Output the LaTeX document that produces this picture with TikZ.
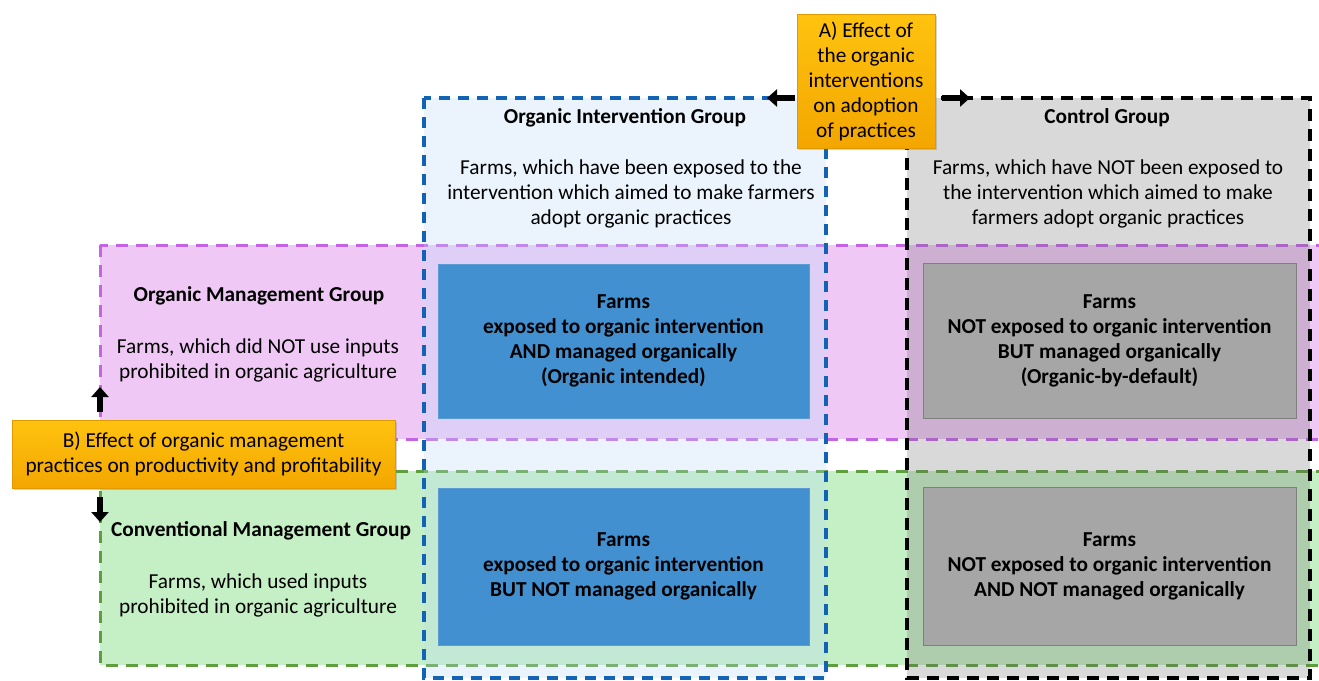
\documentclass[tikz,border=0pt]{standalone}
\usepackage{fontspec}
\setmainfont{Carlito}
\usetikzlibrary{arrows.meta,shadows}
\definecolor{c4290CF}{HTML}{4290CF}
\definecolor{c5B9BD5}{HTML}{5B9BD5}
\definecolor{cBDDCF8}{HTML}{BDDCF8}
\definecolor{c1262B6}{HTML}{1262B6}
\definecolor{c686868}{HTML}{686868}
\definecolor{cA6A6A6}{HTML}{A6A6A6}
\definecolor{c7F7F7F}{HTML}{7F7F7F}
\definecolor{cEFC8F5}{HTML}{EFC8F5}
\definecolor{cC264E4}{HTML}{C264E4}
\definecolor{cC5EFC5}{HTML}{C5EFC5}
\definecolor{c5E9E3C}{HTML}{5E9E3C}
\definecolor{cFFC30F}{HTML}{FFC30F}
\definecolor{cF3A600}{HTML}{F3A600}
\definecolor{cE09A00}{HTML}{E09A00}

\begin{document}
\begin{tikzpicture}[x=1pt,y=-1pt,
    every node/.style={font=\fontsize{21.3}{25}\selectfont,align=center,inner sep=0},
    hdr/.style={font=\fontsize{21.3}{25}\selectfont\bfseries},
    farmint/.style={fill=c4290CF,draw=c5B9BD5,line width=.8pt,minimum width=371,font=\fontsize{21.3}{25}\selectfont\bfseries},
    farmctl/.style={fill=cA6A6A6,draw=c7F7F7F,line width=.8pt,minimum width=373,font=\fontsize{21.3}{25}\selectfont\bfseries},
    effect/.style={top color=cFFC30F,bottom color=cF3A600,draw=cE09A00,line width=.5pt,
        drop shadow={shadow xshift=2pt,shadow yshift=-2pt,opacity=.35}},
    bigarrow/.style={line width=6pt,-{Triangle[width=17pt,length=10pt]}}]
    \useasboundingbox(0,0)rectangle(1319,680);
    % management bands
    \draw[fill=cEFC8F5,draw=cC264E4,dash pattern=on 12pt off 8pt,line width=3pt](100,245)rectangle(1330,439);
    \draw[fill=cC5EFC5,draw=c5E9E3C,dash pattern=on 12pt off 8pt,line width=3pt](100,471)rectangle(1330,665);
    % intervention columns
    \fill[cBDDCF8,fill opacity=.3](424,98)rectangle(826,678);
    \draw[c1262B6,dash pattern=on 11pt off 8pt,line width=3.5pt](424,98)rectangle(826,678);
    \fill[c686868,fill opacity=.25](907,98)rectangle(1310,678);
    \draw[black,dash pattern=on 12pt off 8pt,line width=3.5pt](907,98)rectangle(1310,678);
    % column and band texts
    \node[hdr](oigrp)at(625,118){Organic Intervention Group};
    \node(oidesc)at(631,194){Farms, which have been exposed to the\\intervention which aimed to make farmers\\adopt organic practices};
    \node[hdr](ctlgrp)at(1107,118){Control Group};
    \node(ctldesc)at(1108,194){Farms, which have NOT been exposed to\\the intervention which aimed to make\\farmers adopt organic practices};
    \node[hdr](omgrp)at(259,296){Organic Management Group};
    \node(omdesc)at(258,360){Farms, which did NOT use inputs\\prohibited in organic agriculture};
    \node[hdr](cmgrp)at(261,531){Conventional Management Group};
    \node(cmdesc)at(258,595){Farms, which used inputs\\prohibited in organic agriculture};
    % the four farm groups
    \node[farmint,minimum height=154](intorg)at(623.5,341){Farms\\exposed to organic intervention\\AND managed organically\\(Organic intended)};
    \node[farmint,minimum height=157](intconv)at(623.5,566.5){Farms\\exposed to organic intervention\\BUT NOT managed organically};
    \node[farmctl,minimum height=155](ctlorg)at(1109.5,340.5){Farms\\NOT exposed to organic intervention\\BUT managed organically\\(Organic-by-default)};
    \node[farmctl,minimum height=158](ctlconv)at(1109.5,566){Farms\\NOT exposed to organic intervention\\AND NOT managed organically};
    % effects
    \node[effect,minimum width=138,minimum height=134](effA)at(866,81){A) Effect of\\the organic\\interventions\\on adoption\\of practices};
    \node[effect,minimum width=383,minimum height=68](effB)at(203.5,454){B) Effect of organic management\\practices on productivity and profitability};
    \coordinate(aL)at(767,98);
    \coordinate(aR)at(970,98);
    \coordinate(bU)at(100,387);
    \coordinate(bD)at(100,522);
    \draw[bigarrow,shorten <=2pt](effA.west|-aL)--(aL);
    \draw[bigarrow,shorten <=7pt](effA.east|-aR)--(aR);
    \draw[bigarrow,shorten <=8pt](effB.north-|bU)--(bU);
    \draw[bigarrow,shorten <=9pt](effB.south-|bD)--(bD);
\end{tikzpicture}
\end{document}
